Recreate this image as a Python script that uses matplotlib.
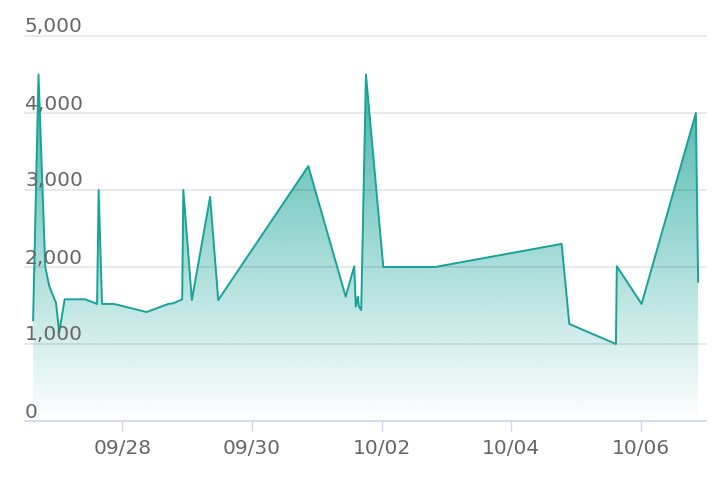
import numpy as np
import pandas as pd
import matplotlib
matplotlib.use('Agg')
import matplotlib.pyplot as plt
import matplotlib.dates as mdates
from matplotlib.patches import Polygon

# values
times = ['2023-09-26 15:00', '2023-09-26 17:00', '2023-09-26 19:30', '2023-09-26 21:00',
         '2023-09-26 23:30', '2023-09-27 00:40', '2023-09-27 02:40', '2023-09-27 10:20',
         '2023-09-27 14:40', '2023-09-27 15:15', '2023-09-27 16:30', '2023-09-27 21:00',
         '2023-09-28 09:00', '2023-09-28 17:00', '2023-09-28 19:00', '2023-09-28 22:10',
         '2023-09-28 22:35', '2023-09-29 01:45', '2023-09-29 08:30', '2023-09-29 11:30',
         '2023-09-30 20:50', '2023-10-01 10:40', '2023-10-01 13:50', '2023-10-01 14:25',
         '2023-10-01 15:10', '2023-10-01 15:35', '2023-10-01 16:25', '2023-10-01 18:10',
         '2023-10-02 00:35', '2023-10-02 19:45', '2023-10-04 18:35', '2023-10-04 21:25',
         '2023-10-05 14:40', '2023-10-05 15:00', '2023-10-06 00:10', '2023-10-06 20:15',
         '2023-10-06 21:05']
values = [1310, 4500, 2000, 1750, 1530, 1150, 1580, 1580, 1520, 3000, 1520, 1520,
          1415, 1520, 1530, 1580, 3000, 1570, 2910, 1570, 3310, 1615, 2010, 1485,
          1615, 1485, 1440, 4500, 2000, 2000, 2300, 1260, 1000, 2010, 1520, 4000, 1810]
tick_days = ['2023-09-28', '2023-09-30', '2023-10-02', '2023-10-04', '2023-10-06']
y_ticks = [0, 1000, 2000, 3000, 4000, 5000]

line_color = '#17a398'
axis_color = '#ccd6eb'
text_color = '#666666'

x = mdates.date2num(pd.to_datetime(times))
xmin = mdates.date2num(pd.Timestamp('2023-09-26 12:00'))
xmax = mdates.date2num(pd.Timestamp('2023-10-07 00:00'))

fig = plt.figure(figsize=(7.22, 4.82), dpi=100)
ax = fig.add_axes([25 / 722, 61 / 482, 681 / 722, 385 / 482])

# gradient fill under the line (transparent at 0, strong at the top of the plot)
n = 256
rgb = matplotlib.colors.to_rgb(line_color)
grad = np.zeros((n, 1, 4))
grad[:, 0, 0] = rgb[0]
grad[:, 0, 1] = rgb[1]
grad[:, 0, 2] = rgb[2]
grad[:, 0, 3] = np.linspace(0.0, 0.9, n)
im = ax.imshow(grad, extent=[x[0], x[-1], 0, 5000], origin='lower', aspect='auto',
               zorder=1, interpolation='bilinear')
verts = [(x[0], 0)] + list(zip(x, values)) + [(x[-1], 0)]
poly = Polygon(verts, closed=True, facecolor='none', edgecolor='none')
ax.add_patch(poly)
im.set_clip_path(poly)
ax.set_xlim(xmin, xmax)
ax.set_ylim(0, 5000)

ax.plot(x, values, color=line_color, lw=1.4, zorder=3)

# grid lines (drawn over the fill) and y labels sitting above them
for v in y_ticks[1:]:
    ax.axhline(v, color=(0, 0, 0, 0.1), lw=1.2, zorder=2, clip_on=False)
for v in y_ticks:
    ax.annotate(f'{v:,}', xy=(0, v), xycoords=('axes fraction', 'data'),
                xytext=(0, 3.5), textcoords='offset pixels', ha='left', va='baseline',
                color=text_color, fontsize=14.5, zorder=5)

for s in ['top', 'right', 'left']:
    ax.spines[s].set_visible(False)
ax.spines['bottom'].set_color(axis_color)
ax.spines['bottom'].set_linewidth(1.2)
ax.spines['bottom'].set_zorder(4)

ax.set_yticks([])
ax.set_xticks(mdates.date2num(pd.to_datetime(tick_days)))
ax.xaxis.set_major_formatter(mdates.DateFormatter('%m/%d'))
ax.tick_params(axis='x', direction='out', length=7.2, width=1, color=axis_color,
               labelcolor=text_color, labelsize=14.5, pad=6)

fig.savefig('out.png', dpi=100)
